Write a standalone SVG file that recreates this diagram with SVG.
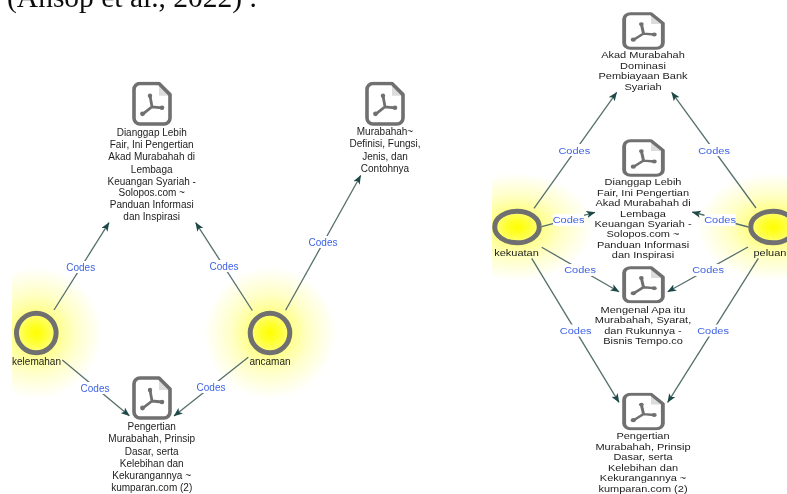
<svg xmlns="http://www.w3.org/2000/svg" xmlns:xlink="http://www.w3.org/1999/xlink" width="787" height="494" viewBox="0 0 787 494">
<style>
text{font-family:"Liberation Sans",Arial,sans-serif}
.t{font-size:10px;fill:#1c1c1c;text-anchor:middle}
.c{font-size:10px;fill:#3f63e6;text-anchor:middle}
.l{fill:none;stroke:#566f6d;stroke-width:1.3;marker-end:url(#a)}
.lb{fill:#fff}
.ring{fill:none;stroke:#6f6f6f;stroke-width:5}
.h{font-family:"Liberation Serif",serif;font-size:29.500px;fill:#111}
</style>
<defs>
<radialGradient id="g">
<stop offset="0" stop-color="#ffff00"/>
<stop offset=".14" stop-color="#ffff30"/>
<stop offset=".34" stop-color="#ffff90"/>
<stop offset=".6" stop-color="#ffffc8"/>
<stop offset="1" stop-color="#ffffff"/>
</radialGradient>
<filter id="soft" x="0" y="0" width="100%" height="100%" filterUnits="objectBoundingBox"><feGaussianBlur stdDeviation=".4"/></filter>
<marker id="a" viewBox="0 0 10 8" refX="9.500" refY="4" markerWidth="9" markerHeight="7.500" markerUnits="userSpaceOnUse" orient="auto">
<path d="M0 0L10 4L0 8L2.500 4z" fill="#1f4a47"/>
</marker>
<clipPath id="cl"><rect x="12" y="260" width="100" height="150"/></clipPath>
<clipPath id="cr"><rect x="492" y="160" width="110" height="120"/></clipPath>
<symbol id="pdf" viewBox="0 0 40 44" preserveAspectRatio="none">
<path d="M27 3V14H38z" fill="#dcdcdc"/>
<path d="M8 2H27L38 13V36a6 6 0 0 1-6 6H8a6 6 0 0 1-6-6V8a6 6 0 0 1 6-6z" fill="none" stroke="#6f6f6f" stroke-width="3.600" stroke-linejoin="round"/>
<path d="M18 14L20 25L11 32M20 25L30 26" fill="none" stroke="#6f6f6f" stroke-width="2.800" stroke-linecap="round"/>
<circle cx="18" cy="14" r="2.200" fill="#6f6f6f"/><circle cx="10.500" cy="32" r="2.400" fill="#6f6f6f"/><circle cx="30" cy="26" r="2.300" fill="#6f6f6f"/>
</symbol>
</defs>
<rect width="787" height="494" fill="#fff"/>
<g filter="url(#soft)">
<rect width="787" height="494" fill="#fff"/>
<text class="h" x="7" y="7">(Ansop et al., 2022) .</text>

<g id="glows">
<g clip-path="url(#cl)"><circle cx="36" cy="333" r="66" fill="url(#g)"/></g>
<circle cx="270" cy="333" r="66" fill="url(#g)"/>
<g clip-path="url(#cr)"><ellipse cx="517" cy="227" rx="76" ry="54" fill="url(#g)"/></g>
<ellipse cx="773" cy="227" rx="76" ry="54" fill="url(#g)"/>
</g>

<g id="connectors">
<path class="l" d="M54 310L109 222.700"/>
<path class="l" d="M252.300 310.500L195.700 222.700"/>
<path class="l" d="M285.600 310.300L360.700 175.500"/>
<path class="l" d="M62.300 360L129.300 415.800"/>
<path class="l" d="M248.300 357.300L174 416"/>
<path class="l" d="M534 208.300L616.700 92.300"/>
<path class="l" d="M756 208L671.700 92.300"/>
<path class="l" d="M541.700 226.700L595 212.300"/>
<path class="l" d="M748.300 227L692.300 212"/>
<path class="l" d="M541.700 247.300L619 291.700"/>
<path class="l" d="M748 247L667.700 291.700"/>
<path class="l" d="M531.700 258.300L619 402.300"/>
<path class="l" d="M758.300 258.300L667.700 402.300"/>
<g id="connector-labels">
<rect class="lb" x="66" y="261" width="29" height="12"/><text class="c" x="80.700" y="270.500">Codes</text>
<rect class="lb" x="209.500" y="260" width="29" height="12"/><text class="c" x="224" y="269.500">Codes</text>
<rect class="lb" x="308.500" y="236" width="29" height="12"/><text class="c" x="323" y="245.500">Codes</text>
<rect class="lb" x="80.500" y="382" width="29" height="12"/><text class="c" x="95" y="391.500">Codes</text>
<rect class="lb" x="196.500" y="381" width="29" height="12"/><text class="c" x="211" y="390.500">Codes</text>
<rect class="lb" x="559" y="144" width="31" height="12"/><text class="c" transform="translate(574.300 153.500) scale(1.1 .9)">Codes</text>
<rect class="lb" x="698.500" y="144" width="31" height="12"/><text class="c" transform="translate(714 153.500) scale(1.1 .9)">Codes</text>
<rect class="lb" x="553" y="214" width="31" height="12"/><text class="c" transform="translate(568.500 223.200) scale(1.1 .9)">Codes</text>
<rect class="lb" x="704.500" y="214" width="31" height="12"/><text class="c" transform="translate(720 223.200) scale(1.1 .9)">Codes</text>
<rect class="lb" x="564.500" y="264" width="31" height="12"/><text class="c" transform="translate(580 273.200) scale(1.1 .9)">Codes</text>
<rect class="lb" x="692.500" y="264" width="31" height="12"/><text class="c" transform="translate(708 273.200) scale(1.1 .9)">Codes</text>
<rect class="lb" x="560" y="324.500" width="31" height="12"/><text class="c" transform="translate(575.700 333.800) scale(1.1 .9)">Codes</text>
<rect class="lb" x="697.500" y="324.500" width="31" height="12"/><text class="c" transform="translate(713 333.800) scale(1.1 .9)">Codes</text>
</g>
</g>

<g id="kelemahan"><circle class="ring" cx="36.300" cy="333" r="19.800"/><text class="t" x="36.500" y="365">kelemahan</text></g>
<g id="ancaman"><circle class="ring" cx="270" cy="333" r="19.800"/><text class="t" x="270" y="365">ancaman</text></g>
<g id="kekuatan"><ellipse class="ring" cx="517" cy="227" rx="22.300" ry="15.800"/><text class="t" transform="translate(516.500 255.500) scale(1.1 .9)">kekuatan</text></g>
<g id="peluang"><ellipse class="ring" cx="773" cy="227" rx="22.300" ry="15.800"/><text class="t" transform="translate(773 255.500) scale(1.1 .9)">peluang</text></g>

<g id="doc-dianggap-1"><use xlink:href="#pdf" href="#pdf" x="132" y="81.500" width="40" height="44.500"/>
<text class="t"><tspan x="151.700" y="136">Dianggap Lebih</tspan><tspan x="151.700" y="148">Fair, Ini Pengertian</tspan><tspan x="151.700" y="160">Akad Murabahah di</tspan><tspan x="151.700" y="172.500">Lembaga</tspan><tspan x="151.700" y="184.500">Keuangan Syariah -</tspan><tspan x="151.700" y="196">Solopos.com ~</tspan><tspan x="151.700" y="208">Panduan Informasi</tspan><tspan x="151.700" y="220">dan Inspirasi</tspan></text></g>

<g id="doc-murabahah"><use xlink:href="#pdf" href="#pdf" x="365" y="81.500" width="40" height="44.500"/>
<text class="t"><tspan x="385" y="135">Murabahah~</tspan><tspan x="385" y="147.300">Definisi, Fungsi,</tspan><tspan x="385" y="160">Jenis, dan</tspan><tspan x="385" y="172">Contohnya</tspan></text></g>

<g id="doc-pengertian-1"><use xlink:href="#pdf" href="#pdf" x="132" y="376" width="40" height="44"/>
<text class="t"><tspan x="151.700" y="430">Pengertian</tspan><tspan x="151.700" y="442">Murabahah, Prinsip</tspan><tspan x="151.700" y="454.700">Dasar, serta</tspan><tspan x="151.700" y="466.700">Kelebihan dan</tspan><tspan x="151.700" y="479">Kekurangannya ~</tspan><tspan x="151.700" y="490.700">kumparan.com (2)</tspan></text></g>

<g id="doc-akad"><use xlink:href="#pdf" href="#pdf" x="622" y="12" width="43" height="38"/>
<g transform="translate(643 0) scale(1.1 .9)"><text class="t"><tspan x="0" y="64.400">Akad Murabahah</tspan><tspan x="0" y="76.500">Dominasi</tspan><tspan x="0" y="88.300">Pembiayaan Bank</tspan><tspan x="0" y="100">Syariah</tspan></text></g></g>

<g id="doc-dianggap-2"><use xlink:href="#pdf" href="#pdf" x="622" y="139" width="43" height="38"/>
<g transform="translate(643 0) scale(1.1 .9)"><text class="t"><tspan x="0" y="205.600">Dianggap Lebih</tspan><tspan x="0" y="217.400">Fair, Ini Pengertian</tspan><tspan x="0" y="229.400">Akad Murabahah di</tspan><tspan x="0" y="240.600">Lembaga</tspan><tspan x="0" y="252.200">Keuangan Syariah -</tspan><tspan x="0" y="263.900">Solopos.com ~</tspan><tspan x="0" y="275.600">Panduan Informasi</tspan><tspan x="0" y="286.700">dan Inspirasi</tspan></text></g></g>

<g id="doc-mengenal"><use xlink:href="#pdf" href="#pdf" x="622" y="266" width="43" height="37.500"/>
<g transform="translate(643 0) scale(1.1 .9)"><text class="t"><tspan x="0" y="347.400">Mengenal Apa itu</tspan><tspan x="0" y="358.900">Murabahah, Syarat,</tspan><tspan x="0" y="370.800">dan Rukunnya -</tspan><tspan x="0" y="382.600">Bisnis Tempo.co</tspan></text></g></g>

<g id="doc-pengertian-2"><use xlink:href="#pdf" href="#pdf" x="622" y="392.500" width="43" height="38"/>
<g transform="translate(643 0) scale(1.1 .9)"><text class="t"><tspan x="0" y="487.800">Pengertian</tspan><tspan x="0" y="499.700">Murabahah, Prinsip</tspan><tspan x="0" y="511.100">Dasar, serta</tspan><tspan x="0" y="523">Kelebihan dan</tspan><tspan x="0" y="534.800">Kekurangannya ~</tspan><tspan x="0" y="546.300">kumparan.com (2)</tspan></text></g></g>
</g>
</svg>
